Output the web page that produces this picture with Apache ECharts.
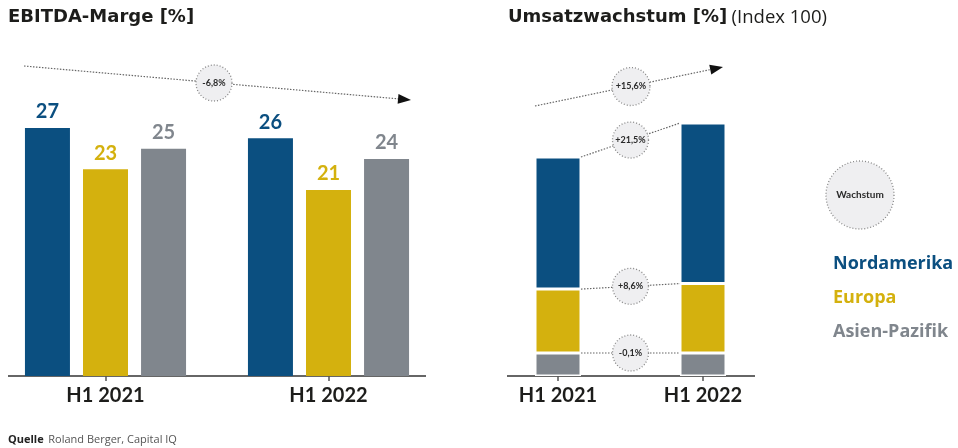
<!DOCTYPE html>
<html>
<head>
<meta charset="utf-8">
<script src="https://cdn.jsdelivr.net/npm/echarts@6/dist/echarts.min.js"></script>
<style>
  html, body { margin: 0; padding: 0; background: #fff; }
  #chart { width: 958px; height: 448px; }
</style>
</head>
<body>
<div id="chart"></div>
<script>
const categories = ["H1 2021", "H1 2022"];
const regions = ["Nordamerika", "Europa", "Asien-Pazifik"];
const regionColors = ["#0b4f80", "#d4b10e", "#80868d"];

// EBITDA-Marge [%]
const marginNorthAmerica = [27, 26];
const marginEurope = [23, 21];
const marginAsia = [25, 24];

// Umsatz, Index 100 (H1 2021 total = 100)
const indexAsia = [10.5, 10.5];
const indexEurope = [29.2, 31.7];
const indexNorthAmerica = [60.3, 73.3];

// growth bubbles, stack layer bottom -> top
const layerGrowth = ["-0,1%", "+8,6%", "+21,5%"];
const totalGrowth = "+15,6%";
const marginChange = "-6,8%";

const FONT = "Lato, 'Open Sans', sans-serif";
const HEAD = "'DejaVu Sans', sans-serif";
const SUB = "'Open Sans', sans-serif";
const TEXT = "#1d1d1b";

const chart = echarts.init(document.getElementById("chart"));

const valueLabel = (color) => ({
  show: true,
  position: "top",
  distance: 6,
  color: color,
  fontSize: 20,
  fontWeight: "bold",
  fontFamily: FONT,
});

const catAxis = (gridIndex) => ({
  type: "category",
  gridIndex: gridIndex,
  data: categories,
  boundaryGap: false,
  axisLine: { show: false },
  axisTick: { show: true, length: 5, lineStyle: { color: "#555", width: 1.5 } },
  axisLabel: { color: TEXT, fontSize: 20, fontWeight: "bold", fontFamily: FONT, margin: 10 },
});

const marginBar = (i, data) => ({
  name: regions[i], type: "bar", xAxisIndex: 0, yAxisIndex: 0,
  barWidth: 45, barGap: "29%", clip: false,
  itemStyle: { color: regionColors[i] },
  label: valueLabel(regionColors[i]),
  data: data,
});

const indexBar = (i, data) => ({
  name: regions[i], type: "bar", stack: "index", xAxisIndex: 1, yAxisIndex: 1,
  barWidth: 46, clip: false,
  itemStyle: { color: regionColors[i], borderColor: "#fff", borderWidth: 1.5 },
  data: data,
});

const option = {
  animation: false,
  textStyle: { fontFamily: FONT },
  title: [
    {
      text: "EBITDA-Marge [%]",
      left: 8,
      top: 8,
      padding: 0,
      textStyle: { color: TEXT, fontSize: 18, fontWeight: "bold", fontFamily: HEAD },
    },
    {
      text: "{b|Umsatzwachstum [%]} {n|(Index 100)}",
      left: 508,
      top: 8,
      padding: 0,
      textStyle: {
        rich: {
          b: { color: TEXT, fontSize: 18, fontWeight: "bold", fontFamily: HEAD },
          n: { color: TEXT, fontSize: 18.5, fontWeight: "normal", fontFamily: SUB },
        },
      },
    },
    {
      text: "{b|Quelle} {n|Roland Berger, Capital IQ}",
      left: 8,
      top: 431,
      padding: 0,
      textStyle: {
        fontWeight: "normal",
        rich: {
          b: { color: "#222", fontSize: 11, fontWeight: "bold", fontFamily: SUB },
          n: { color: "#555", fontSize: 11, fontWeight: "normal", fontFamily: SUB },
        },
      },
    },
  ],
  legend: {
    orient: "vertical",
    left: 828,
    top: 254,
    padding: 0,
    itemWidth: 0,
    itemHeight: 0,
    itemGap: 14,
    selectedMode: false,
    textStyle: { fontSize: 18, fontWeight: "bold", fontFamily: SUB, lineHeight: 20 },
    data: regions.map((name, i) => ({ name: name, icon: "rect", textStyle: { color: regionColors[i] } })),
  },
  grid: [
    { left: 105.5, width: 223, top: 97, bottom: 72 },
    { left: 558, width: 145, top: 113.2, bottom: 72 },
  ],
  xAxis: [catAxis(0), catAxis(1)],
  yAxis: [
    { type: "value", gridIndex: 0, min: 3, max: 30, startValue: 3, show: false },
    { type: "value", gridIndex: 1, min: 0, max: 120, show: false },
  ],
  series: [
    marginBar(0, marginNorthAmerica),
    marginBar(1, marginEurope),
    marginBar(2, marginAsia),
    indexBar(2, indexAsia),
    indexBar(1, indexEurope),
    indexBar(0, indexNorthAmerica),
  ],
};

chart.setOption(option);

// --- annotations ---
function dotted(x1, y1, x2, y2) {
  return {
    type: "line", silent: true,
    shape: { x1: x1, y1: y1, x2: x2, y2: y2 },
    style: { stroke: "#666", lineWidth: 1.2, lineDash: [1.5, 1.5] },
  };
}
function arrowHead(x1, y1, x2, y2) {
  const len = Math.hypot(x2 - x1, y2 - y1);
  const dx = (x2 - x1) / len, dy = (y2 - y1) / len;
  const nx = -dy, ny = dx;
  return {
    type: "polygon", silent: true,
    shape: { points: [[x2, y2], [x2 - dx * 13 + nx * 5, y2 - dy * 13 + ny * 5], [x2 - dx * 13 - nx * 5, y2 - dy * 13 - ny * 5]] },
    style: { fill: "#111" },
  };
}
function bubble(cx, cy, r, text, size) {
  return [
    {
      type: "circle", silent: true,
      shape: { cx: cx, cy: cy, r: r },
      style: { fill: "#efeff1", stroke: "#888", lineWidth: 1.3, lineDash: [1, 2] },
    },
    {
      type: "text", silent: true, x: cx, y: cy,
      style: { text: text, fill: "#2a2a2a", font: "bold " + size + "px " + FONT, align: "center", verticalAlign: "middle" },
    },
  ];
}
function axisLine(x1, x2, y) {
  return { type: "line", silent: true, shape: { x1: x1, y1: y, x2: x2, y2: y }, style: { stroke: "#666", lineWidth: 2 } };
}

const px = (i, v) => chart.convertToPixel({ gridIndex: 1 }, [i, v]);
const half = 23;
const layers = [indexAsia, indexEurope, indexNorthAmerica];
const graphics = [];

// axis baselines
const base = px(0, 0)[1];
graphics.push(axisLine(8, 426, base), axisLine(507, 755, base));

// left trend arrow
graphics.push(dotted(24, 66, 400, 99), arrowHead(24, 66, 411, 100));
graphics.push(...bubble(214, 83, 18, marginChange, 9));

// right: layer connectors
const cum = [0, 0];
layers.forEach((layer, k) => {
  cum[0] += layer[0];
  cum[1] += layer[1];
  const a = px(0, cum[0]);
  const b = px(1, cum[1]);
  const x1 = a[0] + half, y1 = a[1];
  const x2 = b[0] - half, y2 = b[1];
  graphics.push(dotted(x1, y1, x2, y2));
  graphics.push(...bubble((x1 + x2) / 2, (y1 + y2) / 2, 18, layerGrowth[k], 9));
});

// right: total growth arrow
const t0 = px(0, cum[0]);
const t1 = px(1, cum[1]);
const s = [t0[0] - half, t0[1] - 51];
const e = [t1[0] + half - 3, t1[1] - 56];
graphics.push(dotted(s[0], s[1], e[0] - 10, e[1] + 2), arrowHead(s[0], s[1], e[0], e[1]));
graphics.push(...bubble((s[0] + e[0]) / 2 + 2, (s[1] + e[1]) / 2, 19, totalGrowth, 9));

// legend bubble
graphics.push(...bubble(860, 195, 34, "Wachstum", 10));

chart.setOption({ graphic: graphics });
</script>
</body>
</html>
